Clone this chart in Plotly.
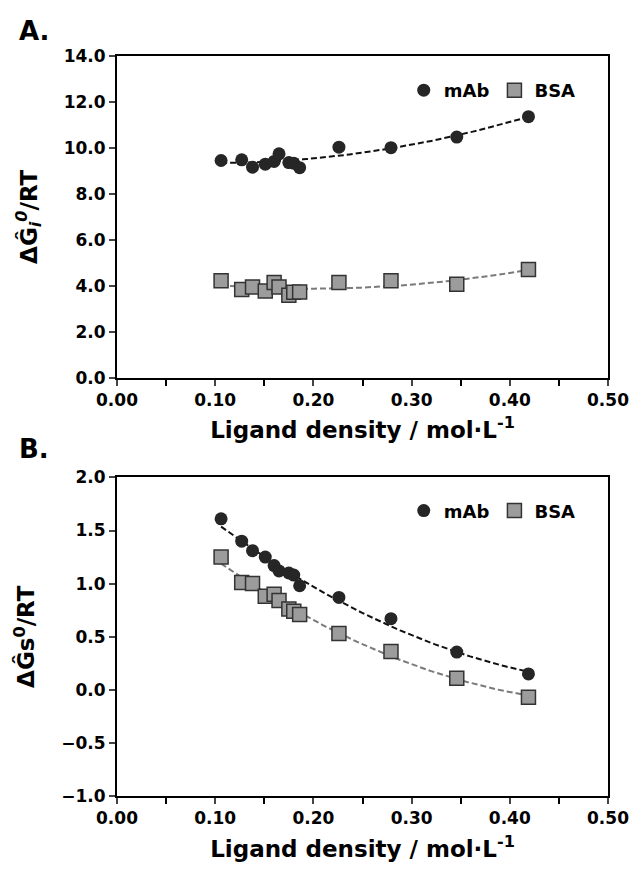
import numpy as np
import plotly.graph_objects as go

# ---- data ----
ligand_density = [0.106, 0.127, 0.138, 0.151, 0.160, 0.165, 0.175, 0.180, 0.186, 0.226, 0.279, 0.346, 0.419]
dGi_mAb = [9.45, 9.48, 9.16, 9.29, 9.41, 9.74, 9.36, 9.33, 9.14, 10.03, 10.01, 10.47, 11.36]
dGi_BSA = [4.22, 3.83, 3.94, 3.77, 4.14, 3.94, 3.58, 3.71, 3.73, 4.14, 4.22, 4.06, 4.71]
dGs_mAb = [1.61, 1.40, 1.31, 1.25, 1.17, 1.12, 1.10, 1.08, 0.98, 0.87, 0.67, 0.355, 0.15]
dGs_BSA = [1.25, 1.01, 1.00, 0.88, 0.90, 0.84, 0.76, 0.74, 0.71, 0.53, 0.36, 0.11, -0.07]

series_names = ["mAb", "BSA"]
x_title = "Ligand density / mol·L<sup>-1</sup>"
yA_title = "ΔĜ<sub><i>i</i></sub><sup><i>0</i></sup>/RT"
yB_title = "ΔĜs<sup>0</sup>/RT"

FONT = "DejaVu Sans"
mab_color = "#262626"
bsa_fill = "#9c9c9c"
bsa_edge = "#333333"
bsa_line = "#7a7a7a"

x = np.array(ligand_density)
xfit = np.linspace(x.min(), x.max(), 80)

def trend(y):
    c = np.polyfit(x, np.array(y), 2)
    return np.polyval(c, xfit)

fig = go.Figure()

panels = [("x", "y", dGi_mAb, dGi_BSA, "legend"), ("x2", "y2", dGs_mAb, dGs_BSA, "legend2")]
for xa, ya, ym, yb, lg in panels:
    fig.add_trace(go.Scatter(x=xfit, y=trend(yb), mode="lines", xaxis=xa, yaxis=ya,
                             line=dict(color=bsa_line, width=2, dash="6px,3px"), showlegend=False, hoverinfo="skip"))
    fig.add_trace(go.Scatter(x=xfit, y=trend(ym), mode="lines", xaxis=xa, yaxis=ya,
                             line=dict(color="#111111", width=2, dash="6px,3px"), showlegend=False, hoverinfo="skip"))
    fig.add_trace(go.Scatter(x=ligand_density, y=yb, mode="markers", name=series_names[1], xaxis=xa, yaxis=ya,
                             legend=lg, legendrank=2,
                             marker=dict(symbol="square", size=14, color=bsa_fill, line=dict(color=bsa_edge, width=1.5))))
    fig.add_trace(go.Scatter(x=ligand_density, y=ym, mode="markers", name=series_names[0], xaxis=xa, yaxis=ya,
                             legend=lg, legendrank=1,
                             marker=dict(symbol="circle", size=13, color=mab_color, line=dict(width=0))))

tickfont = dict(family=FONT, size=17, color="black", weight="bold")
titlefont = dict(family=FONT, size=23, color="black", weight="bold")

common_x = dict(range=[0, 0.5], dtick=0.1, tick0=0, tickformat=".2f", ticks="outside", ticklen=6, tickwidth=2,
                showline=True, linewidth=2, linecolor="black", mirror=True, showgrid=False, zeroline=False,
                tickfont=tickfont, ticklabeloverflow="allow",
                minor=dict(dtick=0.05, ticks="outside", ticklen=6, tickwidth=2, tickcolor="black"),
                title=dict(text=x_title, font=titlefont, standoff=13))
common_y = dict(ticks="outside", ticklen=6, tickwidth=2, showline=True, linewidth=2, linecolor="black",
                mirror=True, showgrid=False, zeroline=False, tickfont=tickfont, tickformat=".1f",
                ticklabeloverflow="allow")

H = 870
top_px, botA_px, topB_px, bot_px = 56, 378, 478, 797
span = bot_px - top_px
domA = [(bot_px - botA_px) / span, 1.0]
domB = [0.0, (bot_px - topB_px) / span]

fig.update_layout(
    width=641, height=H,
    margin=dict(l=117, r=22, t=top_px, b=H - bot_px),
    paper_bgcolor="white", plot_bgcolor="white",
    xaxis=dict(common_x, anchor="y"),
    yaxis=dict(common_y, domain=domA, range=[0, 14], dtick=2, anchor="x",
               title=dict(text=yA_title, font=titlefont, standoff=20)),
    xaxis2=dict(common_x, anchor="y2"),
    yaxis2=dict(common_y, domain=domB, range=[-1, 2], dtick=0.5, anchor="x2",
                title=dict(text=yB_title, font=titlefont, standoff=20)),
    legend=dict(orientation="h", x=0.584, y=(bot_px - 72) / span, xanchor="left", yanchor="top",
                font=dict(family=FONT, size=18, color="black", weight="bold"), bgcolor="rgba(0,0,0,0)",
                itemwidth=30, traceorder="normal"),
    legend2=dict(orientation="h", x=0.584, y=(bot_px - 493) / span, xanchor="left", yanchor="top",
                 font=dict(family=FONT, size=18, color="black", weight="bold"), bgcolor="rgba(0,0,0,0)",
                 itemwidth=30, traceorder="normal"),
    annotations=[
        dict(text="A.", xref="paper", yref="paper", x=(15 - 117) / 502, y=(bot_px - 31) / span,
             xanchor="left", yanchor="middle", showarrow=False,
             font=dict(family=FONT, size=26, color="black", weight="bold")),
        dict(text="B.", xref="paper", yref="paper", x=(15 - 117) / 502, y=(bot_px - 450) / span,
             xanchor="left", yanchor="middle", showarrow=False,
             font=dict(family=FONT, size=26, color="black", weight="bold")),
    ],
)

fig.write_html("out.html")
